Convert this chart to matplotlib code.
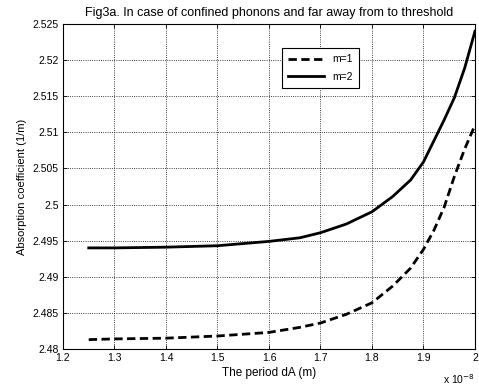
import numpy as np
import matplotlib.pyplot as plt
from matplotlib.ticker import FuncFormatter, MultipleLocator

plt.rcParams['font.family'] = ['Liberation Sans', 'DejaVu Sans']
plt.rcParams['font.size'] = 7.5

# period dA in units of 1e-8 m
period = [1.25, 1.30, 1.40, 1.50, 1.60, 1.66, 1.70, 1.75, 1.80, 1.84, 1.875,
          1.90, 1.92, 1.94, 1.96, 1.98, 2.00]
# absorption coefficient (1/m)
alpha_m1 = [2.4813, 2.4814, 2.4815, 2.4818, 2.4823, 2.4830, 2.4836, 2.4848, 2.4864,
            2.4887, 2.4912, 2.4938, 2.4964, 2.4996, 2.5039, 2.5077, 2.5110]
alpha_m2 = [2.4940, 2.4940, 2.4941, 2.4943, 2.4949, 2.4954, 2.4961, 2.4973, 2.4990,
            2.5011, 2.5034, 2.5059, 2.5088, 2.5117, 2.5148, 2.5189, 2.5240]

fig = plt.figure(figsize=(4.79, 3.89), dpi=100)
ax = fig.add_axes([0.1315, 0.1028, 0.8601, 0.8355])

ax.plot(period, alpha_m1, 'k--', lw=2, dashes=(3, 1.6), label='m=1')
ax.plot(period, alpha_m2, 'k-', lw=2, label='m=2')

ax.set_xlim(1.2, 2.0)
ax.set_ylim(2.48, 2.525)
ax.xaxis.set_major_locator(MultipleLocator(0.1))
ax.yaxis.set_major_locator(MultipleLocator(0.005))
fmt = FuncFormatter(lambda v, p: '%g' % round(v, 4))
ax.xaxis.set_major_formatter(fmt)
ax.yaxis.set_major_formatter(fmt)
ax.tick_params(direction='in', length=3, width=0.6, pad=3, top=True, right=True,
               labeltop=False, labelright=False)

ax.grid(True, linestyle=':', color='k', linewidth=0.6)
for s in ax.spines.values():
    s.set_linewidth(0.8)

ax.set_title('Fig3a. In case of confined phonons and far away from to threshold', pad=6)
ax.set_xlabel('The period dA (m)', labelpad=3, fontsize=8.5)
ax.set_ylabel('Absorption coefficient (1/m)', labelpad=4, fontsize=8)
ax.text(1.0, -0.07, r'x 10$^{-8}$', transform=ax.transAxes, ha='right', va='top')

leg = ax.legend(loc='upper left', bbox_to_anchor=(0.519, 0.9415), fancybox=False,
                framealpha=1, edgecolor='k', handlelength=3.4, borderpad=0.6,
                labelspacing=0.7)
leg.get_frame().set_linewidth(0.8)

fig.savefig('out.png', dpi=100)
